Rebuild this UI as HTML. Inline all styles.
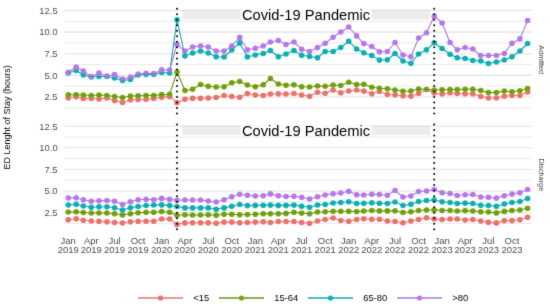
<!DOCTYPE html>
<html><head><meta charset="utf-8">
<style>
html,body{margin:0;padding:0;background:#fff;}
body{width:550px;height:308px;overflow:hidden;}
svg{display:block;}
text{font-family:"Liberation Sans",sans-serif;}
.tk{font-size:9.4px;fill:#4D4D4D;}
.xt{font-size:9.5px;fill:#4D4D4D;}
.cv{font-size:14.7px;fill:#000;}
.st{font-size:7.3px;fill:#444444;}
.yt{font-size:9px;fill:#000;}
.lg{font-size:9.4px;fill:#000;}
</style></head>
<body>
<svg width="550" height="308" viewBox="0 0 550 308">
<defs><filter id="bl" filterUnits="userSpaceOnUse" x="0" y="0" width="550" height="308" color-interpolation-filters="sRGB"><feConvolveMatrix order="3" kernelMatrix="0.01134 0.08382 0.01134 0.08382 0.61935 0.08382 0.01134 0.08382 0.01134" edgeMode="duplicate" preserveAlpha="true"/></filter></defs>
<rect width="550" height="308" fill="#fff"/>
<g filter="url(#bl)">
<rect width="550" height="308" fill="#fff"/>
<line x1="64" x2="532" y1="21.31" y2="21.31" stroke="#E2E2E2" stroke-width="0.7"/>
<line x1="64" x2="532" y1="42.94" y2="42.94" stroke="#E2E2E2" stroke-width="0.7"/>
<line x1="64" x2="532" y1="64.56" y2="64.56" stroke="#E2E2E2" stroke-width="0.7"/>
<line x1="64" x2="532" y1="86.19" y2="86.19" stroke="#E2E2E2" stroke-width="0.7"/>
<line x1="64" x2="532" y1="107.81" y2="107.81" stroke="#E2E2E2" stroke-width="0.7"/>
<line x1="64" x2="532" y1="10.50" y2="10.50" stroke="#E2E2E2" stroke-width="1.1"/>
<line x1="64" x2="532" y1="32.12" y2="32.12" stroke="#E2E2E2" stroke-width="1.1"/>
<line x1="64" x2="532" y1="53.75" y2="53.75" stroke="#E2E2E2" stroke-width="1.1"/>
<line x1="64" x2="532" y1="75.38" y2="75.38" stroke="#E2E2E2" stroke-width="1.1"/>
<line x1="64" x2="532" y1="97.00" y2="97.00" stroke="#E2E2E2" stroke-width="1.1"/>
<line x1="64" x2="532" y1="137.01" y2="137.01" stroke="#E2E2E2" stroke-width="0.7"/>
<line x1="64" x2="532" y1="158.64" y2="158.64" stroke="#E2E2E2" stroke-width="0.7"/>
<line x1="64" x2="532" y1="180.26" y2="180.26" stroke="#E2E2E2" stroke-width="0.7"/>
<line x1="64" x2="532" y1="201.89" y2="201.89" stroke="#E2E2E2" stroke-width="0.7"/>
<line x1="64" x2="532" y1="223.51" y2="223.51" stroke="#E2E2E2" stroke-width="0.7"/>
<line x1="64" x2="532" y1="126.20" y2="126.20" stroke="#E2E2E2" stroke-width="1.1"/>
<line x1="64" x2="532" y1="147.82" y2="147.82" stroke="#E2E2E2" stroke-width="1.1"/>
<line x1="64" x2="532" y1="169.45" y2="169.45" stroke="#E2E2E2" stroke-width="1.1"/>
<line x1="64" x2="532" y1="191.07" y2="191.07" stroke="#E2E2E2" stroke-width="1.1"/>
<line x1="64" x2="532" y1="212.70" y2="212.70" stroke="#E2E2E2" stroke-width="1.1"/>
<rect x="182.3" y="9.7" width="247.7" height="9.7" fill="#D0D0D0" fill-opacity="0.38"/>
<rect x="240.8" y="9.7" width="130.7" height="9.7" fill="#FFFFFF"/>
<text x="306" y="19.9" text-anchor="middle" class="cv">Covid-19 Pandemic</text>
<rect x="182.3" y="125.4" width="247.7" height="9.699999999999989" fill="#D0D0D0" fill-opacity="0.38"/>
<rect x="240.8" y="125.4" width="130.7" height="9.699999999999989" fill="#FFFFFF"/>
<text x="306" y="135.6" text-anchor="middle" class="cv">Covid-19 Pandemic</text>
<text x="57.6" y="13.80" text-anchor="end" class="tk">12.5</text>
<text x="57.6" y="35.42" text-anchor="end" class="tk">10.0</text>
<text x="57.6" y="57.05" text-anchor="end" class="tk">7.5</text>
<text x="57.6" y="78.67" text-anchor="end" class="tk">5.0</text>
<text x="57.6" y="100.30" text-anchor="end" class="tk">2.5</text>
<text x="57.6" y="129.50" text-anchor="end" class="tk">12.5</text>
<text x="57.6" y="151.12" text-anchor="end" class="tk">10.0</text>
<text x="57.6" y="172.75" text-anchor="end" class="tk">7.5</text>
<text x="57.6" y="194.38" text-anchor="end" class="tk">5.0</text>
<text x="57.6" y="216.00" text-anchor="end" class="tk">2.5</text>
<g fill="#F26F67"><circle cx="68.25" cy="98.00" r="2.8"/><circle cx="76.18" cy="96.80" r="2.8"/><circle cx="83.35" cy="98.50" r="2.8"/><circle cx="91.28" cy="98.50" r="2.8"/><circle cx="98.96" cy="99.00" r="2.8"/><circle cx="106.89" cy="98.00" r="2.8"/><circle cx="114.57" cy="100.60" r="2.8"/><circle cx="122.50" cy="102.50" r="2.8"/><circle cx="130.43" cy="99.80" r="2.8"/><circle cx="138.11" cy="99.50" r="2.8"/><circle cx="146.04" cy="99.20" r="2.8"/><circle cx="153.72" cy="98.50" r="2.8"/><circle cx="161.65" cy="97.30" r="2.8"/><circle cx="169.59" cy="96.60" r="2.8"/><circle cx="177.01" cy="102.70" r="2.8"/><circle cx="184.94" cy="99.20" r="2.8"/><circle cx="192.62" cy="98.30" r="2.8"/><circle cx="200.55" cy="98.30" r="2.8"/><circle cx="208.23" cy="98.00" r="2.8"/><circle cx="216.16" cy="97.50" r="2.8"/><circle cx="224.09" cy="95.50" r="2.8"/><circle cx="231.77" cy="96.50" r="2.8"/><circle cx="239.70" cy="97.20" r="2.8"/><circle cx="247.38" cy="93.50" r="2.8"/><circle cx="255.31" cy="95.00" r="2.8"/><circle cx="263.25" cy="95.50" r="2.8"/><circle cx="270.41" cy="94.00" r="2.8"/><circle cx="278.34" cy="93.80" r="2.8"/><circle cx="286.02" cy="94.00" r="2.8"/><circle cx="293.95" cy="93.50" r="2.8"/><circle cx="301.63" cy="95.00" r="2.8"/><circle cx="309.56" cy="96.30" r="2.8"/><circle cx="317.50" cy="92.20" r="2.8"/><circle cx="325.17" cy="93.20" r="2.8"/><circle cx="333.11" cy="90.00" r="2.8"/><circle cx="340.78" cy="92.80" r="2.8"/><circle cx="348.72" cy="91.00" r="2.8"/><circle cx="356.65" cy="90.00" r="2.8"/><circle cx="363.81" cy="91.10" r="2.8"/><circle cx="371.75" cy="93.80" r="2.8"/><circle cx="379.42" cy="91.50" r="2.8"/><circle cx="387.36" cy="94.50" r="2.8"/><circle cx="395.03" cy="94.80" r="2.8"/><circle cx="402.97" cy="95.80" r="2.8"/><circle cx="410.90" cy="96.20" r="2.8"/><circle cx="418.58" cy="93.50" r="2.8"/><circle cx="426.51" cy="89.50" r="2.8"/><circle cx="434.19" cy="93.00" r="2.8"/><circle cx="442.12" cy="94.00" r="2.8"/><circle cx="450.05" cy="92.80" r="2.8"/><circle cx="457.22" cy="93.50" r="2.8"/><circle cx="465.15" cy="93.80" r="2.8"/><circle cx="472.83" cy="93.80" r="2.8"/><circle cx="480.76" cy="96.50" r="2.8"/><circle cx="488.44" cy="98.00" r="2.8"/><circle cx="496.37" cy="98.00" r="2.8"/><circle cx="504.30" cy="96.20" r="2.8"/><circle cx="511.98" cy="95.50" r="2.8"/><circle cx="519.91" cy="95.50" r="2.8"/><circle cx="527.59" cy="92.00" r="2.8"/></g>
<g fill="#77A705"><circle cx="68.25" cy="94.80" r="2.8"/><circle cx="76.18" cy="94.80" r="2.8"/><circle cx="83.35" cy="95.00" r="2.8"/><circle cx="91.28" cy="95.50" r="2.8"/><circle cx="98.96" cy="95.00" r="2.8"/><circle cx="106.89" cy="95.50" r="2.8"/><circle cx="114.57" cy="96.50" r="2.8"/><circle cx="122.50" cy="97.50" r="2.8"/><circle cx="130.43" cy="96.00" r="2.8"/><circle cx="138.11" cy="95.80" r="2.8"/><circle cx="146.04" cy="95.50" r="2.8"/><circle cx="153.72" cy="95.50" r="2.8"/><circle cx="161.65" cy="94.60" r="2.8"/><circle cx="169.59" cy="94.40" r="2.8"/><circle cx="177.01" cy="72.00" r="2.8"/><circle cx="184.94" cy="90.50" r="2.8"/><circle cx="192.62" cy="89.20" r="2.8"/><circle cx="200.55" cy="84.50" r="2.8"/><circle cx="208.23" cy="86.30" r="2.8"/><circle cx="216.16" cy="87.00" r="2.8"/><circle cx="224.09" cy="86.80" r="2.8"/><circle cx="231.77" cy="82.80" r="2.8"/><circle cx="239.70" cy="81.50" r="2.8"/><circle cx="247.38" cy="85.00" r="2.8"/><circle cx="255.31" cy="86.80" r="2.8"/><circle cx="263.25" cy="84.80" r="2.8"/><circle cx="270.41" cy="78.50" r="2.8"/><circle cx="278.34" cy="84.00" r="2.8"/><circle cx="286.02" cy="85.20" r="2.8"/><circle cx="293.95" cy="84.80" r="2.8"/><circle cx="301.63" cy="86.80" r="2.8"/><circle cx="309.56" cy="87.00" r="2.8"/><circle cx="317.50" cy="86.00" r="2.8"/><circle cx="325.17" cy="86.20" r="2.8"/><circle cx="333.11" cy="85.00" r="2.8"/><circle cx="340.78" cy="85.50" r="2.8"/><circle cx="348.72" cy="82.20" r="2.8"/><circle cx="356.65" cy="84.50" r="2.8"/><circle cx="363.81" cy="84.30" r="2.8"/><circle cx="371.75" cy="87.20" r="2.8"/><circle cx="379.42" cy="88.20" r="2.8"/><circle cx="387.36" cy="88.80" r="2.8"/><circle cx="395.03" cy="90.00" r="2.8"/><circle cx="402.97" cy="91.20" r="2.8"/><circle cx="410.90" cy="91.00" r="2.8"/><circle cx="418.58" cy="89.00" r="2.8"/><circle cx="426.51" cy="89.50" r="2.8"/><circle cx="434.19" cy="90.00" r="2.8"/><circle cx="442.12" cy="89.80" r="2.8"/><circle cx="450.05" cy="89.50" r="2.8"/><circle cx="457.22" cy="89.50" r="2.8"/><circle cx="465.15" cy="89.20" r="2.8"/><circle cx="472.83" cy="89.20" r="2.8"/><circle cx="480.76" cy="90.50" r="2.8"/><circle cx="488.44" cy="92.50" r="2.8"/><circle cx="496.37" cy="92.60" r="2.8"/><circle cx="504.30" cy="91.00" r="2.8"/><circle cx="511.98" cy="91.80" r="2.8"/><circle cx="519.91" cy="90.80" r="2.8"/><circle cx="527.59" cy="88.50" r="2.8"/></g>
<g fill="#07B5BA"><circle cx="68.25" cy="73.00" r="2.8"/><circle cx="76.18" cy="70.50" r="2.8"/><circle cx="83.35" cy="75.00" r="2.8"/><circle cx="91.28" cy="77.00" r="2.8"/><circle cx="98.96" cy="76.50" r="2.8"/><circle cx="106.89" cy="76.50" r="2.8"/><circle cx="114.57" cy="78.00" r="2.8"/><circle cx="122.50" cy="80.50" r="2.8"/><circle cx="130.43" cy="79.50" r="2.8"/><circle cx="138.11" cy="75.00" r="2.8"/><circle cx="146.04" cy="74.50" r="2.8"/><circle cx="153.72" cy="74.50" r="2.8"/><circle cx="161.65" cy="72.50" r="2.8"/><circle cx="169.59" cy="73.00" r="2.8"/><circle cx="177.01" cy="19.70" r="2.8"/><circle cx="184.94" cy="56.00" r="2.8"/><circle cx="192.62" cy="53.00" r="2.8"/><circle cx="200.55" cy="51.00" r="2.8"/><circle cx="208.23" cy="53.00" r="2.8"/><circle cx="216.16" cy="56.70" r="2.8"/><circle cx="224.09" cy="57.00" r="2.8"/><circle cx="231.77" cy="50.00" r="2.8"/><circle cx="239.70" cy="42.90" r="2.8"/><circle cx="247.38" cy="57.00" r="2.8"/><circle cx="255.31" cy="55.00" r="2.8"/><circle cx="263.25" cy="53.50" r="2.8"/><circle cx="270.41" cy="50.50" r="2.8"/><circle cx="278.34" cy="56.80" r="2.8"/><circle cx="286.02" cy="54.00" r="2.8"/><circle cx="293.95" cy="50.50" r="2.8"/><circle cx="301.63" cy="55.30" r="2.8"/><circle cx="309.56" cy="56.50" r="2.8"/><circle cx="317.50" cy="57.70" r="2.8"/><circle cx="325.17" cy="51.50" r="2.8"/><circle cx="333.11" cy="51.50" r="2.8"/><circle cx="340.78" cy="47.50" r="2.8"/><circle cx="348.72" cy="41.30" r="2.8"/><circle cx="356.65" cy="49.00" r="2.8"/><circle cx="363.81" cy="52.70" r="2.8"/><circle cx="371.75" cy="55.50" r="2.8"/><circle cx="379.42" cy="60.10" r="2.8"/><circle cx="387.36" cy="59.80" r="2.8"/><circle cx="395.03" cy="53.50" r="2.8"/><circle cx="402.97" cy="61.00" r="2.8"/><circle cx="410.90" cy="63.30" r="2.8"/><circle cx="418.58" cy="54.00" r="2.8"/><circle cx="426.51" cy="49.80" r="2.8"/><circle cx="434.19" cy="42.80" r="2.8"/><circle cx="442.12" cy="48.50" r="2.8"/><circle cx="450.05" cy="54.20" r="2.8"/><circle cx="457.22" cy="57.80" r="2.8"/><circle cx="465.15" cy="58.50" r="2.8"/><circle cx="472.83" cy="60.50" r="2.8"/><circle cx="480.76" cy="61.00" r="2.8"/><circle cx="488.44" cy="63.50" r="2.8"/><circle cx="496.37" cy="62.00" r="2.8"/><circle cx="504.30" cy="60.00" r="2.8"/><circle cx="511.98" cy="56.80" r="2.8"/><circle cx="519.91" cy="51.00" r="2.8"/><circle cx="527.59" cy="43.50" r="2.8"/></g>
<g fill="#BE76F5"><circle cx="68.25" cy="72.20" r="2.8"/><circle cx="76.18" cy="67.00" r="2.8"/><circle cx="83.35" cy="71.00" r="2.8"/><circle cx="91.28" cy="76.50" r="2.8"/><circle cx="98.96" cy="73.00" r="2.8"/><circle cx="106.89" cy="76.00" r="2.8"/><circle cx="114.57" cy="74.60" r="2.8"/><circle cx="122.50" cy="79.00" r="2.8"/><circle cx="130.43" cy="77.00" r="2.8"/><circle cx="138.11" cy="74.00" r="2.8"/><circle cx="146.04" cy="73.20" r="2.8"/><circle cx="153.72" cy="73.50" r="2.8"/><circle cx="161.65" cy="69.90" r="2.8"/><circle cx="169.59" cy="70.00" r="2.8"/><circle cx="177.01" cy="44.40" r="2.8"/><circle cx="184.94" cy="51.00" r="2.8"/><circle cx="192.62" cy="47.00" r="2.8"/><circle cx="200.55" cy="46.00" r="2.8"/><circle cx="208.23" cy="47.00" r="2.8"/><circle cx="216.16" cy="51.00" r="2.8"/><circle cx="224.09" cy="51.00" r="2.8"/><circle cx="231.77" cy="46.00" r="2.8"/><circle cx="239.70" cy="37.20" r="2.8"/><circle cx="247.38" cy="49.70" r="2.8"/><circle cx="255.31" cy="48.20" r="2.8"/><circle cx="263.25" cy="46.00" r="2.8"/><circle cx="270.41" cy="42.00" r="2.8"/><circle cx="278.34" cy="40.50" r="2.8"/><circle cx="286.02" cy="44.50" r="2.8"/><circle cx="293.95" cy="42.00" r="2.8"/><circle cx="301.63" cy="49.20" r="2.8"/><circle cx="309.56" cy="51.50" r="2.8"/><circle cx="317.50" cy="47.60" r="2.8"/><circle cx="325.17" cy="43.30" r="2.8"/><circle cx="333.11" cy="37.20" r="2.8"/><circle cx="340.78" cy="32.00" r="2.8"/><circle cx="348.72" cy="27.00" r="2.8"/><circle cx="356.65" cy="35.90" r="2.8"/><circle cx="363.81" cy="43.60" r="2.8"/><circle cx="371.75" cy="46.50" r="2.8"/><circle cx="379.42" cy="51.80" r="2.8"/><circle cx="387.36" cy="51.50" r="2.8"/><circle cx="395.03" cy="42.50" r="2.8"/><circle cx="402.97" cy="55.00" r="2.8"/><circle cx="410.90" cy="56.70" r="2.8"/><circle cx="418.58" cy="38.00" r="2.8"/><circle cx="426.51" cy="32.80" r="2.8"/><circle cx="434.19" cy="16.20" r="2.8"/><circle cx="442.12" cy="23.00" r="2.8"/><circle cx="450.05" cy="42.50" r="2.8"/><circle cx="457.22" cy="49.80" r="2.8"/><circle cx="465.15" cy="47.50" r="2.8"/><circle cx="472.83" cy="49.00" r="2.8"/><circle cx="480.76" cy="55.50" r="2.8"/><circle cx="488.44" cy="55.50" r="2.8"/><circle cx="496.37" cy="55.50" r="2.8"/><circle cx="504.30" cy="53.50" r="2.8"/><circle cx="511.98" cy="43.20" r="2.8"/><circle cx="519.91" cy="38.90" r="2.8"/><circle cx="527.59" cy="20.50" r="2.8"/></g>
<polyline points="68.25,98.00 76.18,96.80 83.35,98.50 91.28,98.50 98.96,99.00 106.89,98.00 114.57,100.60 122.50,102.50 130.43,99.80 138.11,99.50 146.04,99.20 153.72,98.50 161.65,97.30 169.59,96.60 177.01,102.70 184.94,99.20 192.62,98.30 200.55,98.30 208.23,98.00 216.16,97.50 224.09,95.50 231.77,96.50 239.70,97.20 247.38,93.50 255.31,95.00 263.25,95.50 270.41,94.00 278.34,93.80 286.02,94.00 293.95,93.50 301.63,95.00 309.56,96.30 317.50,92.20 325.17,93.20 333.11,90.00 340.78,92.80 348.72,91.00 356.65,90.00 363.81,91.10 371.75,93.80 379.42,91.50 387.36,94.50 395.03,94.80 402.97,95.80 410.90,96.20 418.58,93.50 426.51,89.50 434.19,93.00 442.12,94.00 450.05,92.80 457.22,93.50 465.15,93.80 472.83,93.80 480.76,96.50 488.44,98.00 496.37,98.00 504.30,96.20 511.98,95.50 519.91,95.50 527.59,92.00" fill="none" stroke="#DC7A73" stroke-width="1.1" stroke-linejoin="round"/>
<polyline points="68.25,94.80 76.18,94.80 83.35,95.00 91.28,95.50 98.96,95.00 106.89,95.50 114.57,96.50 122.50,97.50 130.43,96.00 138.11,95.80 146.04,95.50 153.72,95.50 161.65,94.60 169.59,94.40 177.01,72.00 184.94,90.50 192.62,89.20 200.55,84.50 208.23,86.30 216.16,87.00 224.09,86.80 231.77,82.80 239.70,81.50 247.38,85.00 255.31,86.80 263.25,84.80 270.41,78.50 278.34,84.00 286.02,85.20 293.95,84.80 301.63,86.80 309.56,87.00 317.50,86.00 325.17,86.20 333.11,85.00 340.78,85.50 348.72,82.20 356.65,84.50 363.81,84.30 371.75,87.20 379.42,88.20 387.36,88.80 395.03,90.00 402.97,91.20 410.90,91.00 418.58,89.00 426.51,89.50 434.19,90.00 442.12,89.80 450.05,89.50 457.22,89.50 465.15,89.20 472.83,89.20 480.76,90.50 488.44,92.50 496.37,92.60 504.30,91.00 511.98,91.80 519.91,90.80 527.59,88.50" fill="none" stroke="#68931A" stroke-width="1.1" stroke-linejoin="round"/>
<polyline points="68.25,73.00 76.18,70.50 83.35,75.00 91.28,77.00 98.96,76.50 106.89,76.50 114.57,78.00 122.50,80.50 130.43,79.50 138.11,75.00 146.04,74.50 153.72,74.50 161.65,72.50 169.59,73.00 177.01,19.70 184.94,56.00 192.62,53.00 200.55,51.00 208.23,53.00 216.16,56.70 224.09,57.00 231.77,50.00 239.70,42.90 247.38,57.00 255.31,55.00 263.25,53.50 270.41,50.50 278.34,56.80 286.02,54.00 293.95,50.50 301.63,55.30 309.56,56.50 317.50,57.70 325.17,51.50 333.11,51.50 340.78,47.50 348.72,41.30 356.65,49.00 363.81,52.70 371.75,55.50 379.42,60.10 387.36,59.80 395.03,53.50 402.97,61.00 410.90,63.30 418.58,54.00 426.51,49.80 434.19,42.80 442.12,48.50 450.05,54.20 457.22,57.80 465.15,58.50 472.83,60.50 480.76,61.00 488.44,63.50 496.37,62.00 504.30,60.00 511.98,56.80 519.91,51.00 527.59,43.50" fill="none" stroke="#1AA3A7" stroke-width="1.1" stroke-linejoin="round"/>
<polyline points="68.25,72.20 76.18,67.00 83.35,71.00 91.28,76.50 98.96,73.00 106.89,76.00 114.57,74.60 122.50,79.00 130.43,77.00 138.11,74.00 146.04,73.20 153.72,73.50 161.65,69.90 169.59,70.00 177.01,44.40 184.94,51.00 192.62,47.00 200.55,46.00 208.23,47.00 216.16,51.00 224.09,51.00 231.77,46.00 239.70,37.20 247.38,49.70 255.31,48.20 263.25,46.00 270.41,42.00 278.34,40.50 286.02,44.50 293.95,42.00 301.63,49.20 309.56,51.50 317.50,47.60 325.17,43.30 333.11,37.20 340.78,32.00 348.72,27.00 356.65,35.90 363.81,43.60 371.75,46.50 379.42,51.80 387.36,51.50 395.03,42.50 402.97,55.00 410.90,56.70 418.58,38.00 426.51,32.80 434.19,16.20 442.12,23.00 450.05,42.50 457.22,49.80 465.15,47.50 472.83,49.00 480.76,55.50 488.44,55.50 496.37,55.50 504.30,53.50 511.98,43.20 519.91,38.90 527.59,20.50" fill="none" stroke="#A67DD4" stroke-width="1.1" stroke-linejoin="round"/>
<g fill="#F26F67"><circle cx="68.25" cy="219.80" r="2.8"/><circle cx="76.18" cy="218.80" r="2.8"/><circle cx="83.35" cy="220.20" r="2.8"/><circle cx="91.28" cy="221.00" r="2.8"/><circle cx="98.96" cy="221.20" r="2.8"/><circle cx="106.89" cy="221.80" r="2.8"/><circle cx="114.57" cy="222.50" r="2.8"/><circle cx="122.50" cy="223.00" r="2.8"/><circle cx="130.43" cy="221.80" r="2.8"/><circle cx="138.11" cy="221.20" r="2.8"/><circle cx="146.04" cy="221.20" r="2.8"/><circle cx="153.72" cy="221.20" r="2.8"/><circle cx="161.65" cy="219.00" r="2.8"/><circle cx="169.59" cy="219.00" r="2.8"/><circle cx="177.01" cy="224.40" r="2.8"/><circle cx="184.94" cy="222.90" r="2.8"/><circle cx="192.62" cy="222.70" r="2.8"/><circle cx="200.55" cy="222.70" r="2.8"/><circle cx="208.23" cy="222.70" r="2.8"/><circle cx="216.16" cy="223.30" r="2.8"/><circle cx="224.09" cy="222.10" r="2.8"/><circle cx="231.77" cy="222.10" r="2.8"/><circle cx="239.70" cy="222.70" r="2.8"/><circle cx="247.38" cy="222.50" r="2.8"/><circle cx="255.31" cy="222.10" r="2.8"/><circle cx="263.25" cy="221.80" r="2.8"/><circle cx="270.41" cy="222.50" r="2.8"/><circle cx="278.34" cy="221.50" r="2.8"/><circle cx="286.02" cy="221.50" r="2.8"/><circle cx="293.95" cy="221.50" r="2.8"/><circle cx="301.63" cy="222.50" r="2.8"/><circle cx="309.56" cy="223.20" r="2.8"/><circle cx="317.50" cy="221.00" r="2.8"/><circle cx="325.17" cy="219.50" r="2.8"/><circle cx="333.11" cy="218.00" r="2.8"/><circle cx="340.78" cy="220.50" r="2.8"/><circle cx="348.72" cy="221.20" r="2.8"/><circle cx="356.65" cy="219.50" r="2.8"/><circle cx="363.81" cy="218.70" r="2.8"/><circle cx="371.75" cy="219.20" r="2.8"/><circle cx="379.42" cy="219.20" r="2.8"/><circle cx="387.36" cy="221.00" r="2.8"/><circle cx="395.03" cy="221.50" r="2.8"/><circle cx="402.97" cy="222.80" r="2.8"/><circle cx="410.90" cy="221.00" r="2.8"/><circle cx="418.58" cy="219.50" r="2.8"/><circle cx="426.51" cy="217.80" r="2.8"/><circle cx="434.19" cy="219.00" r="2.8"/><circle cx="442.12" cy="219.50" r="2.8"/><circle cx="450.05" cy="219.00" r="2.8"/><circle cx="457.22" cy="219.00" r="2.8"/><circle cx="465.15" cy="220.00" r="2.8"/><circle cx="472.83" cy="219.50" r="2.8"/><circle cx="480.76" cy="221.00" r="2.8"/><circle cx="488.44" cy="222.20" r="2.8"/><circle cx="496.37" cy="222.90" r="2.8"/><circle cx="504.30" cy="220.60" r="2.8"/><circle cx="511.98" cy="220.60" r="2.8"/><circle cx="519.91" cy="219.80" r="2.8"/><circle cx="527.59" cy="217.20" r="2.8"/></g>
<g fill="#77A705"><circle cx="68.25" cy="212.00" r="2.8"/><circle cx="76.18" cy="211.80" r="2.8"/><circle cx="83.35" cy="212.50" r="2.8"/><circle cx="91.28" cy="213.00" r="2.8"/><circle cx="98.96" cy="213.00" r="2.8"/><circle cx="106.89" cy="213.00" r="2.8"/><circle cx="114.57" cy="213.80" r="2.8"/><circle cx="122.50" cy="215.00" r="2.8"/><circle cx="130.43" cy="213.80" r="2.8"/><circle cx="138.11" cy="212.80" r="2.8"/><circle cx="146.04" cy="212.20" r="2.8"/><circle cx="153.72" cy="212.20" r="2.8"/><circle cx="161.65" cy="211.50" r="2.8"/><circle cx="169.59" cy="212.20" r="2.8"/><circle cx="177.01" cy="215.30" r="2.8"/><circle cx="184.94" cy="214.70" r="2.8"/><circle cx="192.62" cy="215.00" r="2.8"/><circle cx="200.55" cy="215.00" r="2.8"/><circle cx="208.23" cy="214.80" r="2.8"/><circle cx="216.16" cy="215.30" r="2.8"/><circle cx="224.09" cy="214.20" r="2.8"/><circle cx="231.77" cy="214.20" r="2.8"/><circle cx="239.70" cy="214.70" r="2.8"/><circle cx="247.38" cy="214.50" r="2.8"/><circle cx="255.31" cy="214.20" r="2.8"/><circle cx="263.25" cy="213.70" r="2.8"/><circle cx="270.41" cy="213.70" r="2.8"/><circle cx="278.34" cy="213.70" r="2.8"/><circle cx="286.02" cy="213.40" r="2.8"/><circle cx="293.95" cy="212.20" r="2.8"/><circle cx="301.63" cy="213.10" r="2.8"/><circle cx="309.56" cy="213.80" r="2.8"/><circle cx="317.50" cy="212.00" r="2.8"/><circle cx="325.17" cy="211.80" r="2.8"/><circle cx="333.11" cy="211.20" r="2.8"/><circle cx="340.78" cy="211.20" r="2.8"/><circle cx="348.72" cy="211.30" r="2.8"/><circle cx="356.65" cy="211.60" r="2.8"/><circle cx="363.81" cy="211.00" r="2.8"/><circle cx="371.75" cy="210.50" r="2.8"/><circle cx="379.42" cy="210.90" r="2.8"/><circle cx="387.36" cy="210.90" r="2.8"/><circle cx="395.03" cy="210.80" r="2.8"/><circle cx="402.97" cy="212.50" r="2.8"/><circle cx="410.90" cy="211.70" r="2.8"/><circle cx="418.58" cy="210.50" r="2.8"/><circle cx="426.51" cy="210.00" r="2.8"/><circle cx="434.19" cy="210.00" r="2.8"/><circle cx="442.12" cy="210.50" r="2.8"/><circle cx="450.05" cy="210.50" r="2.8"/><circle cx="457.22" cy="211.00" r="2.8"/><circle cx="465.15" cy="210.60" r="2.8"/><circle cx="472.83" cy="211.00" r="2.8"/><circle cx="480.76" cy="211.80" r="2.8"/><circle cx="488.44" cy="212.00" r="2.8"/><circle cx="496.37" cy="212.90" r="2.8"/><circle cx="504.30" cy="211.40" r="2.8"/><circle cx="511.98" cy="210.50" r="2.8"/><circle cx="519.91" cy="210.00" r="2.8"/><circle cx="527.59" cy="208.20" r="2.8"/></g>
<g fill="#07B5BA"><circle cx="68.25" cy="205.00" r="2.8"/><circle cx="76.18" cy="204.20" r="2.8"/><circle cx="83.35" cy="206.00" r="2.8"/><circle cx="91.28" cy="207.20" r="2.8"/><circle cx="98.96" cy="206.80" r="2.8"/><circle cx="106.89" cy="206.80" r="2.8"/><circle cx="114.57" cy="207.80" r="2.8"/><circle cx="122.50" cy="210.00" r="2.8"/><circle cx="130.43" cy="207.80" r="2.8"/><circle cx="138.11" cy="206.50" r="2.8"/><circle cx="146.04" cy="205.50" r="2.8"/><circle cx="153.72" cy="205.00" r="2.8"/><circle cx="161.65" cy="204.90" r="2.8"/><circle cx="169.59" cy="205.60" r="2.8"/><circle cx="177.01" cy="206.50" r="2.8"/><circle cx="184.94" cy="207.90" r="2.8"/><circle cx="192.62" cy="207.90" r="2.8"/><circle cx="200.55" cy="207.90" r="2.8"/><circle cx="208.23" cy="207.90" r="2.8"/><circle cx="216.16" cy="209.30" r="2.8"/><circle cx="224.09" cy="207.90" r="2.8"/><circle cx="231.77" cy="206.20" r="2.8"/><circle cx="239.70" cy="204.50" r="2.8"/><circle cx="247.38" cy="205.60" r="2.8"/><circle cx="255.31" cy="205.40" r="2.8"/><circle cx="263.25" cy="205.20" r="2.8"/><circle cx="270.41" cy="205.10" r="2.8"/><circle cx="278.34" cy="205.40" r="2.8"/><circle cx="286.02" cy="205.40" r="2.8"/><circle cx="293.95" cy="205.10" r="2.8"/><circle cx="301.63" cy="206.30" r="2.8"/><circle cx="309.56" cy="207.30" r="2.8"/><circle cx="317.50" cy="205.00" r="2.8"/><circle cx="325.17" cy="204.50" r="2.8"/><circle cx="333.11" cy="203.00" r="2.8"/><circle cx="340.78" cy="202.50" r="2.8"/><circle cx="348.72" cy="201.80" r="2.8"/><circle cx="356.65" cy="203.50" r="2.8"/><circle cx="363.81" cy="203.30" r="2.8"/><circle cx="371.75" cy="202.80" r="2.8"/><circle cx="379.42" cy="203.20" r="2.8"/><circle cx="387.36" cy="203.50" r="2.8"/><circle cx="395.03" cy="202.00" r="2.8"/><circle cx="402.97" cy="205.50" r="2.8"/><circle cx="410.90" cy="204.20" r="2.8"/><circle cx="418.58" cy="201.50" r="2.8"/><circle cx="426.51" cy="200.50" r="2.8"/><circle cx="434.19" cy="200.00" r="2.8"/><circle cx="442.12" cy="201.80" r="2.8"/><circle cx="450.05" cy="202.50" r="2.8"/><circle cx="457.22" cy="203.50" r="2.8"/><circle cx="465.15" cy="203.10" r="2.8"/><circle cx="472.83" cy="203.50" r="2.8"/><circle cx="480.76" cy="205.20" r="2.8"/><circle cx="488.44" cy="205.50" r="2.8"/><circle cx="496.37" cy="206.30" r="2.8"/><circle cx="504.30" cy="204.00" r="2.8"/><circle cx="511.98" cy="202.50" r="2.8"/><circle cx="519.91" cy="201.50" r="2.8"/><circle cx="527.59" cy="198.50" r="2.8"/></g>
<g fill="#BE76F5"><circle cx="68.25" cy="198.00" r="2.8"/><circle cx="76.18" cy="197.80" r="2.8"/><circle cx="83.35" cy="199.80" r="2.8"/><circle cx="91.28" cy="201.20" r="2.8"/><circle cx="98.96" cy="200.80" r="2.8"/><circle cx="106.89" cy="200.50" r="2.8"/><circle cx="114.57" cy="201.20" r="2.8"/><circle cx="122.50" cy="204.50" r="2.8"/><circle cx="130.43" cy="201.80" r="2.8"/><circle cx="138.11" cy="199.80" r="2.8"/><circle cx="146.04" cy="199.20" r="2.8"/><circle cx="153.72" cy="199.80" r="2.8"/><circle cx="161.65" cy="198.40" r="2.8"/><circle cx="169.59" cy="199.40" r="2.8"/><circle cx="177.01" cy="200.20" r="2.8"/><circle cx="184.94" cy="200.00" r="2.8"/><circle cx="192.62" cy="200.00" r="2.8"/><circle cx="200.55" cy="200.00" r="2.8"/><circle cx="208.23" cy="201.00" r="2.8"/><circle cx="216.16" cy="202.00" r="2.8"/><circle cx="224.09" cy="199.70" r="2.8"/><circle cx="231.77" cy="196.80" r="2.8"/><circle cx="239.70" cy="194.30" r="2.8"/><circle cx="247.38" cy="195.20" r="2.8"/><circle cx="255.31" cy="196.00" r="2.8"/><circle cx="263.25" cy="195.80" r="2.8"/><circle cx="270.41" cy="193.90" r="2.8"/><circle cx="278.34" cy="195.70" r="2.8"/><circle cx="286.02" cy="196.50" r="2.8"/><circle cx="293.95" cy="196.20" r="2.8"/><circle cx="301.63" cy="197.30" r="2.8"/><circle cx="309.56" cy="199.00" r="2.8"/><circle cx="317.50" cy="196.80" r="2.8"/><circle cx="325.17" cy="195.00" r="2.8"/><circle cx="333.11" cy="193.80" r="2.8"/><circle cx="340.78" cy="193.00" r="2.8"/><circle cx="348.72" cy="191.20" r="2.8"/><circle cx="356.65" cy="194.80" r="2.8"/><circle cx="363.81" cy="195.00" r="2.8"/><circle cx="371.75" cy="194.20" r="2.8"/><circle cx="379.42" cy="194.50" r="2.8"/><circle cx="387.36" cy="195.20" r="2.8"/><circle cx="395.03" cy="190.50" r="2.8"/><circle cx="402.97" cy="197.00" r="2.8"/><circle cx="410.90" cy="196.00" r="2.8"/><circle cx="418.58" cy="191.50" r="2.8"/><circle cx="426.51" cy="191.00" r="2.8"/><circle cx="434.19" cy="189.50" r="2.8"/><circle cx="442.12" cy="192.80" r="2.8"/><circle cx="450.05" cy="193.50" r="2.8"/><circle cx="457.22" cy="195.50" r="2.8"/><circle cx="465.15" cy="194.70" r="2.8"/><circle cx="472.83" cy="194.50" r="2.8"/><circle cx="480.76" cy="197.00" r="2.8"/><circle cx="488.44" cy="197.20" r="2.8"/><circle cx="496.37" cy="198.10" r="2.8"/><circle cx="504.30" cy="195.70" r="2.8"/><circle cx="511.98" cy="194.10" r="2.8"/><circle cx="519.91" cy="192.80" r="2.8"/><circle cx="527.59" cy="189.50" r="2.8"/></g>
<polyline points="68.25,219.80 76.18,218.80 83.35,220.20 91.28,221.00 98.96,221.20 106.89,221.80 114.57,222.50 122.50,223.00 130.43,221.80 138.11,221.20 146.04,221.20 153.72,221.20 161.65,219.00 169.59,219.00 177.01,224.40 184.94,222.90 192.62,222.70 200.55,222.70 208.23,222.70 216.16,223.30 224.09,222.10 231.77,222.10 239.70,222.70 247.38,222.50 255.31,222.10 263.25,221.80 270.41,222.50 278.34,221.50 286.02,221.50 293.95,221.50 301.63,222.50 309.56,223.20 317.50,221.00 325.17,219.50 333.11,218.00 340.78,220.50 348.72,221.20 356.65,219.50 363.81,218.70 371.75,219.20 379.42,219.20 387.36,221.00 395.03,221.50 402.97,222.80 410.90,221.00 418.58,219.50 426.51,217.80 434.19,219.00 442.12,219.50 450.05,219.00 457.22,219.00 465.15,220.00 472.83,219.50 480.76,221.00 488.44,222.20 496.37,222.90 504.30,220.60 511.98,220.60 519.91,219.80 527.59,217.20" fill="none" stroke="#DC7A73" stroke-width="1.1" stroke-linejoin="round"/>
<polyline points="68.25,212.00 76.18,211.80 83.35,212.50 91.28,213.00 98.96,213.00 106.89,213.00 114.57,213.80 122.50,215.00 130.43,213.80 138.11,212.80 146.04,212.20 153.72,212.20 161.65,211.50 169.59,212.20 177.01,215.30 184.94,214.70 192.62,215.00 200.55,215.00 208.23,214.80 216.16,215.30 224.09,214.20 231.77,214.20 239.70,214.70 247.38,214.50 255.31,214.20 263.25,213.70 270.41,213.70 278.34,213.70 286.02,213.40 293.95,212.20 301.63,213.10 309.56,213.80 317.50,212.00 325.17,211.80 333.11,211.20 340.78,211.20 348.72,211.30 356.65,211.60 363.81,211.00 371.75,210.50 379.42,210.90 387.36,210.90 395.03,210.80 402.97,212.50 410.90,211.70 418.58,210.50 426.51,210.00 434.19,210.00 442.12,210.50 450.05,210.50 457.22,211.00 465.15,210.60 472.83,211.00 480.76,211.80 488.44,212.00 496.37,212.90 504.30,211.40 511.98,210.50 519.91,210.00 527.59,208.20" fill="none" stroke="#68931A" stroke-width="1.1" stroke-linejoin="round"/>
<polyline points="68.25,205.00 76.18,204.20 83.35,206.00 91.28,207.20 98.96,206.80 106.89,206.80 114.57,207.80 122.50,210.00 130.43,207.80 138.11,206.50 146.04,205.50 153.72,205.00 161.65,204.90 169.59,205.60 177.01,206.50 184.94,207.90 192.62,207.90 200.55,207.90 208.23,207.90 216.16,209.30 224.09,207.90 231.77,206.20 239.70,204.50 247.38,205.60 255.31,205.40 263.25,205.20 270.41,205.10 278.34,205.40 286.02,205.40 293.95,205.10 301.63,206.30 309.56,207.30 317.50,205.00 325.17,204.50 333.11,203.00 340.78,202.50 348.72,201.80 356.65,203.50 363.81,203.30 371.75,202.80 379.42,203.20 387.36,203.50 395.03,202.00 402.97,205.50 410.90,204.20 418.58,201.50 426.51,200.50 434.19,200.00 442.12,201.80 450.05,202.50 457.22,203.50 465.15,203.10 472.83,203.50 480.76,205.20 488.44,205.50 496.37,206.30 504.30,204.00 511.98,202.50 519.91,201.50 527.59,198.50" fill="none" stroke="#1AA3A7" stroke-width="1.1" stroke-linejoin="round"/>
<polyline points="68.25,198.00 76.18,197.80 83.35,199.80 91.28,201.20 98.96,200.80 106.89,200.50 114.57,201.20 122.50,204.50 130.43,201.80 138.11,199.80 146.04,199.20 153.72,199.80 161.65,198.40 169.59,199.40 177.01,200.20 184.94,200.00 192.62,200.00 200.55,200.00 208.23,201.00 216.16,202.00 224.09,199.70 231.77,196.80 239.70,194.30 247.38,195.20 255.31,196.00 263.25,195.80 270.41,193.90 278.34,195.70 286.02,196.50 293.95,196.20 301.63,197.30 309.56,199.00 317.50,196.80 325.17,195.00 333.11,193.80 340.78,193.00 348.72,191.20 356.65,194.80 363.81,195.00 371.75,194.20 379.42,194.50 387.36,195.20 395.03,190.50 402.97,197.00 410.90,196.00 418.58,191.50 426.51,191.00 434.19,189.50 442.12,192.80 450.05,193.50 457.22,195.50 465.15,194.70 472.83,194.50 480.76,197.00 488.44,197.20 496.37,198.10 504.30,195.70 511.98,194.10 519.91,192.80 527.59,189.50" fill="none" stroke="#A67DD4" stroke-width="1.1" stroke-linejoin="round"/>
<circle cx="177.01" cy="8.80" r="1.0" fill="#000"/><circle cx="177.01" cy="14.31" r="1.0" fill="#000"/><circle cx="177.01" cy="19.82" r="1.0" fill="#000"/><circle cx="177.01" cy="25.33" r="1.0" fill="#000"/><circle cx="177.01" cy="30.84" r="1.0" fill="#000"/><circle cx="177.01" cy="36.35" r="1.0" fill="#000"/><circle cx="177.01" cy="41.86" r="1.0" fill="#000"/><circle cx="177.01" cy="47.37" r="1.0" fill="#000"/><circle cx="177.01" cy="52.88" r="1.0" fill="#000"/><circle cx="177.01" cy="58.39" r="1.0" fill="#000"/><circle cx="177.01" cy="63.90" r="1.0" fill="#000"/><circle cx="177.01" cy="69.41" r="1.0" fill="#000"/><circle cx="177.01" cy="74.92" r="1.0" fill="#000"/><circle cx="177.01" cy="80.43" r="1.0" fill="#000"/><circle cx="177.01" cy="85.94" r="1.0" fill="#000"/><circle cx="177.01" cy="91.45" r="1.0" fill="#000"/><circle cx="177.01" cy="96.96" r="1.0" fill="#000"/><circle cx="177.01" cy="102.47" r="1.0" fill="#000"/><circle cx="177.01" cy="107.98" r="1.0" fill="#000"/><circle cx="177.01" cy="113.49" r="1.0" fill="#000"/><circle cx="434.19" cy="8.80" r="1.0" fill="#000"/><circle cx="434.19" cy="14.31" r="1.0" fill="#000"/><circle cx="434.19" cy="19.82" r="1.0" fill="#000"/><circle cx="434.19" cy="25.33" r="1.0" fill="#000"/><circle cx="434.19" cy="30.84" r="1.0" fill="#000"/><circle cx="434.19" cy="36.35" r="1.0" fill="#000"/><circle cx="434.19" cy="41.86" r="1.0" fill="#000"/><circle cx="434.19" cy="47.37" r="1.0" fill="#000"/><circle cx="434.19" cy="52.88" r="1.0" fill="#000"/><circle cx="434.19" cy="58.39" r="1.0" fill="#000"/><circle cx="434.19" cy="63.90" r="1.0" fill="#000"/><circle cx="434.19" cy="69.41" r="1.0" fill="#000"/><circle cx="434.19" cy="74.92" r="1.0" fill="#000"/><circle cx="434.19" cy="80.43" r="1.0" fill="#000"/><circle cx="434.19" cy="85.94" r="1.0" fill="#000"/><circle cx="434.19" cy="91.45" r="1.0" fill="#000"/><circle cx="434.19" cy="96.96" r="1.0" fill="#000"/><circle cx="434.19" cy="102.47" r="1.0" fill="#000"/><circle cx="434.19" cy="107.98" r="1.0" fill="#000"/><circle cx="434.19" cy="113.49" r="1.0" fill="#000"/>
<circle cx="177.01" cy="124.50" r="1.0" fill="#000"/><circle cx="177.01" cy="130.01" r="1.0" fill="#000"/><circle cx="177.01" cy="135.52" r="1.0" fill="#000"/><circle cx="177.01" cy="141.03" r="1.0" fill="#000"/><circle cx="177.01" cy="146.54" r="1.0" fill="#000"/><circle cx="177.01" cy="152.05" r="1.0" fill="#000"/><circle cx="177.01" cy="157.56" r="1.0" fill="#000"/><circle cx="177.01" cy="163.07" r="1.0" fill="#000"/><circle cx="177.01" cy="168.58" r="1.0" fill="#000"/><circle cx="177.01" cy="174.09" r="1.0" fill="#000"/><circle cx="177.01" cy="179.60" r="1.0" fill="#000"/><circle cx="177.01" cy="185.11" r="1.0" fill="#000"/><circle cx="177.01" cy="190.62" r="1.0" fill="#000"/><circle cx="177.01" cy="196.13" r="1.0" fill="#000"/><circle cx="177.01" cy="201.64" r="1.0" fill="#000"/><circle cx="177.01" cy="207.15" r="1.0" fill="#000"/><circle cx="177.01" cy="212.66" r="1.0" fill="#000"/><circle cx="177.01" cy="218.17" r="1.0" fill="#000"/><circle cx="177.01" cy="223.68" r="1.0" fill="#000"/><circle cx="177.01" cy="229.19" r="1.0" fill="#000"/><circle cx="434.19" cy="124.50" r="1.0" fill="#000"/><circle cx="434.19" cy="130.01" r="1.0" fill="#000"/><circle cx="434.19" cy="135.52" r="1.0" fill="#000"/><circle cx="434.19" cy="141.03" r="1.0" fill="#000"/><circle cx="434.19" cy="146.54" r="1.0" fill="#000"/><circle cx="434.19" cy="152.05" r="1.0" fill="#000"/><circle cx="434.19" cy="157.56" r="1.0" fill="#000"/><circle cx="434.19" cy="163.07" r="1.0" fill="#000"/><circle cx="434.19" cy="168.58" r="1.0" fill="#000"/><circle cx="434.19" cy="174.09" r="1.0" fill="#000"/><circle cx="434.19" cy="179.60" r="1.0" fill="#000"/><circle cx="434.19" cy="185.11" r="1.0" fill="#000"/><circle cx="434.19" cy="190.62" r="1.0" fill="#000"/><circle cx="434.19" cy="196.13" r="1.0" fill="#000"/><circle cx="434.19" cy="201.64" r="1.0" fill="#000"/><circle cx="434.19" cy="207.15" r="1.0" fill="#000"/><circle cx="434.19" cy="212.66" r="1.0" fill="#000"/><circle cx="434.19" cy="218.17" r="1.0" fill="#000"/><circle cx="434.19" cy="223.68" r="1.0" fill="#000"/><circle cx="434.19" cy="229.19" r="1.0" fill="#000"/>
<text x="68.25" y="243.8" text-anchor="middle" class="xt">Jan</text><text x="68.25" y="253.0" text-anchor="middle" class="xt">2019</text>
<text x="91.28" y="243.8" text-anchor="middle" class="xt">Apr</text><text x="91.28" y="253.0" text-anchor="middle" class="xt">2019</text>
<text x="114.57" y="243.8" text-anchor="middle" class="xt">Jul</text><text x="114.57" y="253.0" text-anchor="middle" class="xt">2019</text>
<text x="138.11" y="243.8" text-anchor="middle" class="xt">Oct</text><text x="138.11" y="253.0" text-anchor="middle" class="xt">2019</text>
<text x="161.65" y="243.8" text-anchor="middle" class="xt">Jan</text><text x="161.65" y="253.0" text-anchor="middle" class="xt">2020</text>
<text x="184.94" y="243.8" text-anchor="middle" class="xt">Apr</text><text x="184.94" y="253.0" text-anchor="middle" class="xt">2020</text>
<text x="208.23" y="243.8" text-anchor="middle" class="xt">Jul</text><text x="208.23" y="253.0" text-anchor="middle" class="xt">2020</text>
<text x="231.77" y="243.8" text-anchor="middle" class="xt">Oct</text><text x="231.77" y="253.0" text-anchor="middle" class="xt">2020</text>
<text x="255.31" y="243.8" text-anchor="middle" class="xt">Jan</text><text x="255.31" y="253.0" text-anchor="middle" class="xt">2021</text>
<text x="278.34" y="243.8" text-anchor="middle" class="xt">Apr</text><text x="278.34" y="253.0" text-anchor="middle" class="xt">2021</text>
<text x="301.63" y="243.8" text-anchor="middle" class="xt">Jul</text><text x="301.63" y="253.0" text-anchor="middle" class="xt">2021</text>
<text x="325.17" y="243.8" text-anchor="middle" class="xt">Oct</text><text x="325.17" y="253.0" text-anchor="middle" class="xt">2021</text>
<text x="348.72" y="243.8" text-anchor="middle" class="xt">Jan</text><text x="348.72" y="253.0" text-anchor="middle" class="xt">2022</text>
<text x="371.75" y="243.8" text-anchor="middle" class="xt">Apr</text><text x="371.75" y="253.0" text-anchor="middle" class="xt">2022</text>
<text x="395.03" y="243.8" text-anchor="middle" class="xt">Jul</text><text x="395.03" y="253.0" text-anchor="middle" class="xt">2022</text>
<text x="418.58" y="243.8" text-anchor="middle" class="xt">Oct</text><text x="418.58" y="253.0" text-anchor="middle" class="xt">2022</text>
<text x="442.12" y="243.8" text-anchor="middle" class="xt">Jan</text><text x="442.12" y="253.0" text-anchor="middle" class="xt">2023</text>
<text x="465.15" y="243.8" text-anchor="middle" class="xt">Apr</text><text x="465.15" y="253.0" text-anchor="middle" class="xt">2023</text>
<text x="488.44" y="243.8" text-anchor="middle" class="xt">Jul</text><text x="488.44" y="253.0" text-anchor="middle" class="xt">2023</text>
<text x="511.98" y="243.8" text-anchor="middle" class="xt">Oct</text><text x="511.98" y="253.0" text-anchor="middle" class="xt">2023</text>
<line x1="138" x2="183" y1="298" y2="298" stroke="#DC7A73" stroke-width="1.3"/><circle cx="160.5" cy="298" r="2.6" fill="#F26F67"/><text x="193.2" y="301.4" class="lg">&lt;15</text>
<line x1="219" x2="264" y1="298" y2="298" stroke="#68931A" stroke-width="1.3"/><circle cx="241.5" cy="298" r="2.6" fill="#77A705"/><text x="274.2" y="301.4" class="lg">15-64</text>
<line x1="308" x2="353" y1="298" y2="298" stroke="#1AA3A7" stroke-width="1.3"/><circle cx="330.5" cy="298" r="2.6" fill="#07B5BA"/><text x="363.2" y="301.4" class="lg">65-80</text>
<line x1="397" x2="442" y1="298" y2="298" stroke="#A67DD4" stroke-width="1.3"/><circle cx="419.5" cy="298" r="2.6" fill="#BE76F5"/><text x="452.2" y="301.4" class="lg">&gt;80</text>
<text transform="translate(539.1,59.7) rotate(90)" text-anchor="middle" class="st">Admitted</text>
<text transform="translate(539.4,174.8) rotate(90)" text-anchor="middle" class="st">Discharge</text>
<text transform="translate(10.2,117.4) rotate(-90)" text-anchor="middle" class="yt">ED Lenght of Stay (hours)</text>

</g>
</svg>
</body></html>
